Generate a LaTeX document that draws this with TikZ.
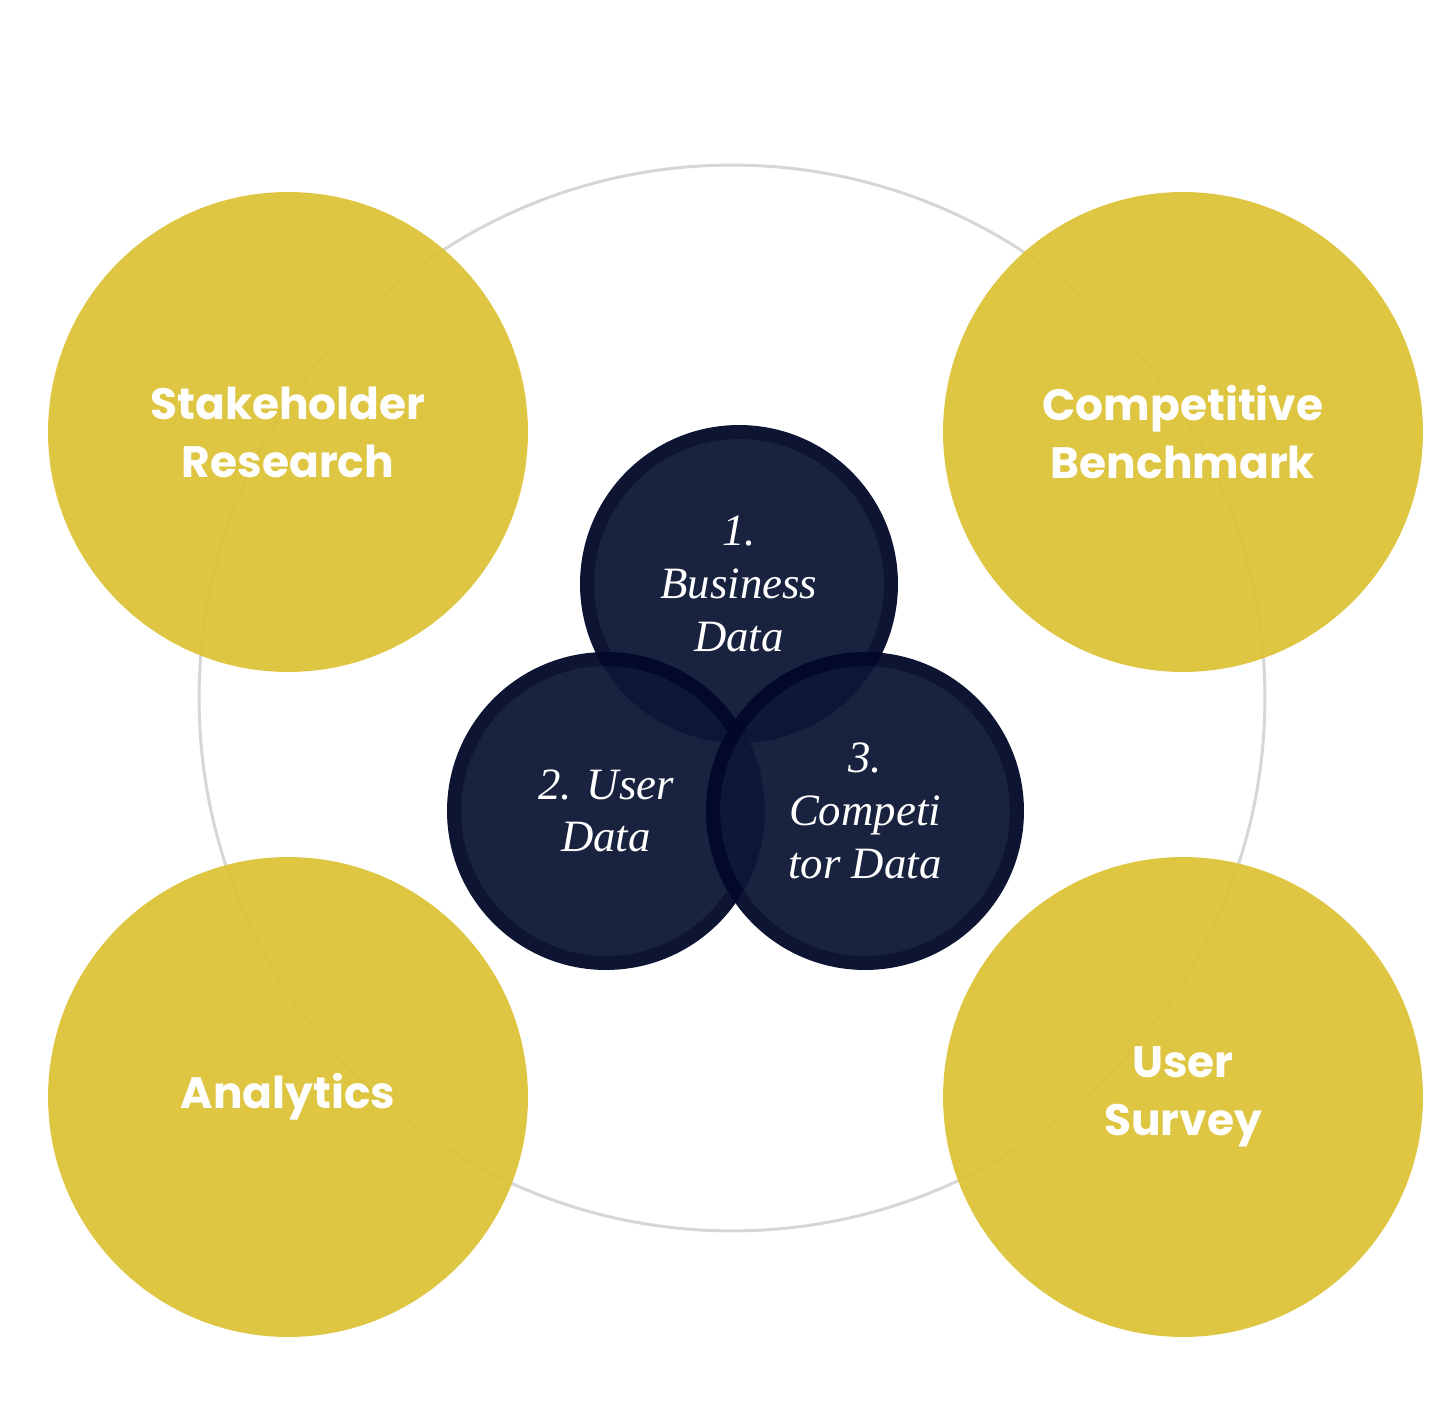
\documentclass[tikz,border=0pt]{standalone}
\usepackage{fontspec}
\newfontfamily\sourcefamily{Poppins}
\newfontfamily\datafamily{Liberation Serif}
\usepackage{tikz}
\definecolor{ringgray}{RGB}{214,214,214}
\definecolor{mustard}{RGB}{220,193,52}
\definecolor{navyfill}{RGB}{13,23,53}
\definecolor{navyring}{RGB}{1,8,40}
\newcommand{\sizesource}{9.6cm}
\newcommand{\sizedata}{6.08cm}
\newcommand{\widthring}{7.97pt}
\tikzset{
    source/.style={circle, fill=mustard, fill opacity=0.93, text opacity=1, text=white,
        minimum size=\sizesource, inner sep=0pt, align=center,
        font=\sourcefamily\bfseries\fontsize{25}{33}\selectfont},
    data/.style={circle, fill=navyfill, draw=navyring, line width=\widthring, text=white,
        minimum size=\sizedata, inner sep=0pt, align=center,
        font=\datafamily\itshape\fontsize{25.5}{30}\selectfont},
    outer/.style={draw=ringgray, line width=1.7pt}
}
\begin{document}
\begin{tikzpicture}[x=0.02cm, y=0.02cm]
    \useasboundingbox (0,0) rectangle (1440,1411);

    % big ring behind everything
    \coordinate (hub) at (732,713);
    \draw[outer] (hub) circle[radius=10.66cm];

    % four sources
    \node[source] (stake) at (288,979) {Stakeholder\\Research};
    \node[source] (bench) at (1183,979) {Competitive\\Benchmark};
    \node[source] (analytics) at (288,314) {Analytics};
    \node[source] (survey) at (1183,314) {User\\Survey};

    % three data circles
    \begin{scope}[transparency group, opacity=0.95]
        \node[data] (business) at (739,827) {1.\\Business\\Data};
    \end{scope}
    \begin{scope}[transparency group, opacity=0.95]
        \node[data] (user) at (606,600) {2. User\\Data};
    \end{scope}
    \begin{scope}[transparency group, opacity=0.95]
        \node[data] (competitor) at (865,600) {3.\\Competi\\tor Data};
    \end{scope}
\end{tikzpicture}
\end{document}
